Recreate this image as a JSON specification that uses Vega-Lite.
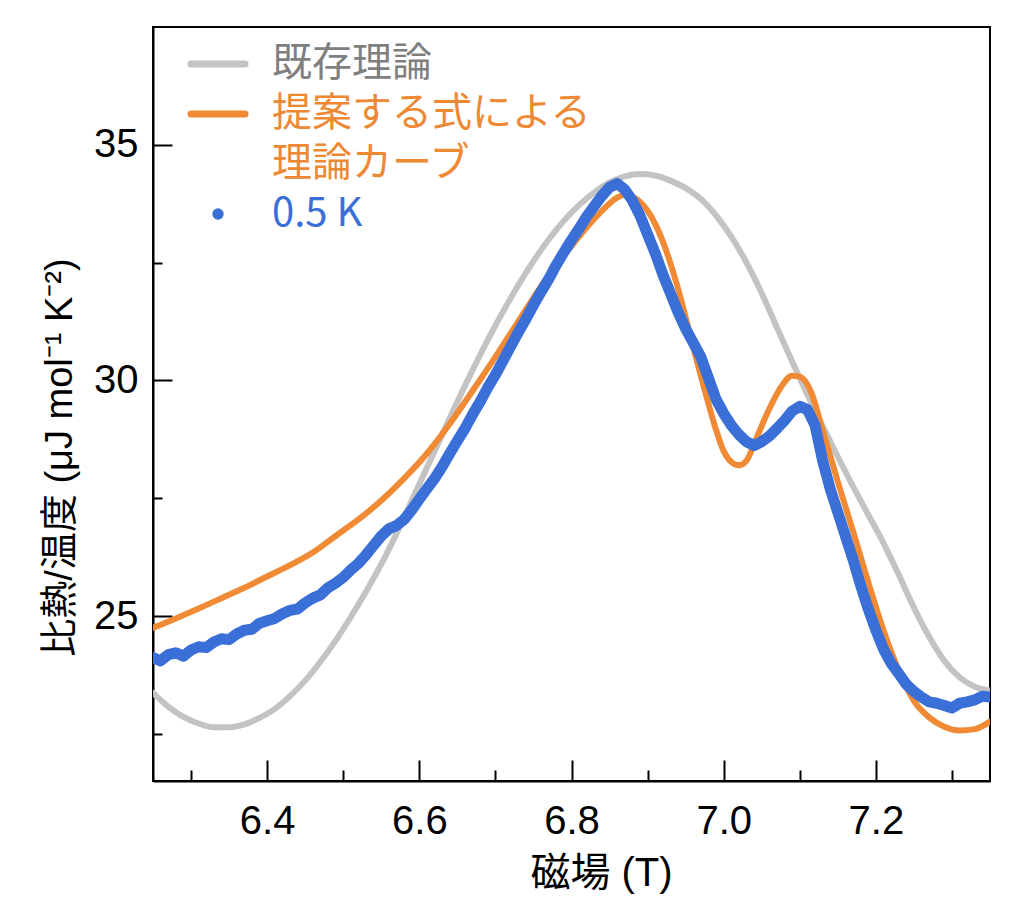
{
  "$schema": "https://vega.github.io/schema/vega-lite/v6.json",
  "width": 837,
  "height": 754,
  "autosize": "none",
  "padding": {"left": 153, "top": 27, "right": 34, "bottom": 130},
  "background": "white",
  "datasets": {
    "gray": [
      {"B": 6.25, "C": 23.37}, {"B": 6.27, "C": 23.08}, {"B": 6.29, "C": 22.86}, {"B": 6.31, "C": 22.72},
      {"B": 6.33, "C": 22.64}, {"B": 6.35, "C": 22.64}, {"B": 6.37, "C": 22.7}, {"B": 6.39, "C": 22.84},
      {"B": 6.41, "C": 23.03}, {"B": 6.43, "C": 23.3}, {"B": 6.45, "C": 23.63}, {"B": 6.47, "C": 24.03},
      {"B": 6.49, "C": 24.48}, {"B": 6.51, "C": 24.98}, {"B": 6.53, "C": 25.52}, {"B": 6.55, "C": 26.1},
      {"B": 6.57, "C": 26.75}, {"B": 6.59, "C": 27.45}, {"B": 6.61, "C": 28.15}, {"B": 6.63, "C": 28.85},
      {"B": 6.65, "C": 29.55}, {"B": 6.67, "C": 30.22}, {"B": 6.69, "C": 30.86}, {"B": 6.71, "C": 31.46},
      {"B": 6.73, "C": 32.02}, {"B": 6.75, "C": 32.53}, {"B": 6.77, "C": 32.99}, {"B": 6.79, "C": 33.39},
      {"B": 6.81, "C": 33.72}, {"B": 6.83, "C": 33.99}, {"B": 6.85, "C": 34.2}, {"B": 6.87, "C": 34.33},
      {"B": 6.89, "C": 34.38}, {"B": 6.91, "C": 34.35}, {"B": 6.93, "C": 34.24}, {"B": 6.95, "C": 34.08},
      {"B": 6.97, "C": 33.85}, {"B": 6.99, "C": 33.5}, {"B": 7.01, "C": 33.05}, {"B": 7.03, "C": 32.5},
      {"B": 7.05, "C": 31.85}, {"B": 7.07, "C": 31.12}, {"B": 7.09, "C": 30.4}, {"B": 7.11, "C": 29.7},
      {"B": 7.13, "C": 29.03}, {"B": 7.15, "C": 28.38}, {"B": 7.17, "C": 27.75}, {"B": 7.19, "C": 27.15},
      {"B": 7.21, "C": 26.55}, {"B": 7.23, "C": 25.88}, {"B": 7.25, "C": 25.18}, {"B": 7.27, "C": 24.56},
      {"B": 7.29, "C": 24.05}, {"B": 7.31, "C": 23.7}, {"B": 7.33, "C": 23.5}, {"B": 7.35, "C": 23.42}
    ],
    "orange": [
      {"B": 6.25, "C": 24.75}, {"B": 6.28, "C": 24.95}, {"B": 6.31, "C": 25.16}, {"B": 6.34, "C": 25.38},
      {"B": 6.37, "C": 25.6}, {"B": 6.40, "C": 25.84}, {"B": 6.43, "C": 26.08}, {"B": 6.46, "C": 26.35},
      {"B": 6.49, "C": 26.7}, {"B": 6.52, "C": 27.05}, {"B": 6.55, "C": 27.45}, {"B": 6.58, "C": 27.92},
      {"B": 6.61, "C": 28.45}, {"B": 6.64, "C": 29.08}, {"B": 6.67, "C": 29.78}, {"B": 6.70, "C": 30.5},
      {"B": 6.72, "C": 31.0}, {"B": 6.74, "C": 31.5}, {"B": 6.76, "C": 32.0}, {"B": 6.78, "C": 32.45},
      {"B": 6.80, "C": 32.85}, {"B": 6.82, "C": 33.25}, {"B": 6.84, "C": 33.6}, {"B": 6.86, "C": 33.88},
      {"B": 6.87, "C": 33.94}, {"B": 6.88, "C": 33.9}, {"B": 6.90, "C": 33.6}, {"B": 6.92, "C": 32.95},
      {"B": 6.94, "C": 31.95}, {"B": 6.96, "C": 30.7}, {"B": 6.975, "C": 29.8}, {"B": 6.99, "C": 28.95},
      {"B": 7.00, "C": 28.5}, {"B": 7.01, "C": 28.27}, {"B": 7.02, "C": 28.2}, {"B": 7.03, "C": 28.3},
      {"B": 7.045, "C": 28.85}, {"B": 7.06, "C": 29.4}, {"B": 7.075, "C": 29.85}, {"B": 7.09, "C": 30.1},
      {"B": 7.10, "C": 30.08}, {"B": 7.115, "C": 29.75}, {"B": 7.13, "C": 28.95}, {"B": 7.15, "C": 27.85},
      {"B": 7.17, "C": 26.8}, {"B": 7.19, "C": 25.72}, {"B": 7.21, "C": 24.7}, {"B": 7.23, "C": 23.85},
      {"B": 7.25, "C": 23.2}, {"B": 7.27, "C": 22.85}, {"B": 7.29, "C": 22.65}, {"B": 7.31, "C": 22.57},
      {"B": 7.33, "C": 22.6}, {"B": 7.35, "C": 22.76}
    ],
    "blue": [
      {"B": 6.25, "C": 24.12}, {"B": 6.26, "C": 24.05}, {"B": 6.27, "C": 24.18}, {"B": 6.28, "C": 24.22},
      {"B": 6.29, "C": 24.15}, {"B": 6.30, "C": 24.28}, {"B": 6.31, "C": 24.35}, {"B": 6.32, "C": 24.33},
      {"B": 6.33, "C": 24.45}, {"B": 6.34, "C": 24.52}, {"B": 6.35, "C": 24.5}, {"B": 6.36, "C": 24.62},
      {"B": 6.37, "C": 24.7}, {"B": 6.38, "C": 24.72}, {"B": 6.39, "C": 24.85}, {"B": 6.40, "C": 24.9},
      {"B": 6.41, "C": 24.95}, {"B": 6.42, "C": 25.05}, {"B": 6.43, "C": 25.12}, {"B": 6.44, "C": 25.15},
      {"B": 6.45, "C": 25.28}, {"B": 6.46, "C": 25.38}, {"B": 6.47, "C": 25.45}, {"B": 6.48, "C": 25.6},
      {"B": 6.49, "C": 25.7}, {"B": 6.50, "C": 25.82}, {"B": 6.51, "C": 25.98}, {"B": 6.52, "C": 26.12},
      {"B": 6.53, "C": 26.3}, {"B": 6.54, "C": 26.5}, {"B": 6.55, "C": 26.7}, {"B": 6.56, "C": 26.85},
      {"B": 6.57, "C": 26.92}, {"B": 6.58, "C": 27.05}, {"B": 6.59, "C": 27.25}, {"B": 6.60, "C": 27.48},
      {"B": 6.61, "C": 27.7}, {"B": 6.62, "C": 27.92}, {"B": 6.63, "C": 28.17}, {"B": 6.64, "C": 28.45},
      {"B": 6.65, "C": 28.72}, {"B": 6.66, "C": 28.98}, {"B": 6.67, "C": 29.28}, {"B": 6.68, "C": 29.55},
      {"B": 6.69, "C": 29.85}, {"B": 6.70, "C": 30.12}, {"B": 6.71, "C": 30.42}, {"B": 6.72, "C": 30.72},
      {"B": 6.73, "C": 31.02}, {"B": 6.74, "C": 31.3}, {"B": 6.75, "C": 31.6}, {"B": 6.76, "C": 31.88},
      {"B": 6.77, "C": 32.15}, {"B": 6.78, "C": 32.45}, {"B": 6.79, "C": 32.72}, {"B": 6.80, "C": 32.98},
      {"B": 6.81, "C": 33.22}, {"B": 6.82, "C": 33.48}, {"B": 6.83, "C": 33.7}, {"B": 6.84, "C": 33.92},
      {"B": 6.85, "C": 34.1}, {"B": 6.86, "C": 34.18}, {"B": 6.87, "C": 34.05}, {"B": 6.88, "C": 33.82},
      {"B": 6.89, "C": 33.5}, {"B": 6.90, "C": 33.1}, {"B": 6.91, "C": 32.7}, {"B": 6.92, "C": 32.25},
      {"B": 6.93, "C": 31.85}, {"B": 6.94, "C": 31.45}, {"B": 6.95, "C": 31.1}, {"B": 6.96, "C": 30.8},
      {"B": 6.97, "C": 30.5}, {"B": 6.98, "C": 30.05}, {"B": 6.99, "C": 29.6}, {"B": 7.00, "C": 29.3},
      {"B": 7.01, "C": 29.05}, {"B": 7.02, "C": 28.85}, {"B": 7.03, "C": 28.7}, {"B": 7.04, "C": 28.62},
      {"B": 7.05, "C": 28.7}, {"B": 7.06, "C": 28.82}, {"B": 7.07, "C": 28.98}, {"B": 7.08, "C": 29.15},
      {"B": 7.09, "C": 29.35}, {"B": 7.10, "C": 29.45}, {"B": 7.11, "C": 29.38}, {"B": 7.12, "C": 29.05},
      {"B": 7.13, "C": 28.3}, {"B": 7.14, "C": 27.7}, {"B": 7.15, "C": 27.2}, {"B": 7.16, "C": 26.7},
      {"B": 7.17, "C": 26.2}, {"B": 7.18, "C": 25.65}, {"B": 7.19, "C": 25.15}, {"B": 7.20, "C": 24.7},
      {"B": 7.21, "C": 24.3}, {"B": 7.22, "C": 24.0}, {"B": 7.23, "C": 23.78}, {"B": 7.24, "C": 23.55},
      {"B": 7.25, "C": 23.4}, {"B": 7.26, "C": 23.28}, {"B": 7.27, "C": 23.18}, {"B": 7.28, "C": 23.15},
      {"B": 7.29, "C": 23.1}, {"B": 7.30, "C": 23.05}, {"B": 7.31, "C": 23.15}, {"B": 7.32, "C": 23.18},
      {"B": 7.33, "C": 23.22}, {"B": 7.34, "C": 23.3}, {"B": 7.35, "C": 23.28}
    ]
  },
  "layer": [
    {
      "data": {"name": "gray"},
      "mark": {"type": "line", "strokeWidth": 6, "strokeCap": "round", "strokeJoin": "round", "interpolate": "monotone", "clip": true},
      "encoding": {
        "x": {"field": "B", "type": "quantitative", "scale": {"domain": [6.25, 7.35], "nice": false, "zero": false},
              "axis": {"orient": "bottom", "values": [6.3, 6.5, 6.7, 6.9, 7.1, 7.3], "labels": false, "tickSize": -11, "title": null, "domain": false}},
        "y": {"field": "C", "type": "quantitative", "scale": {"domain": [21.5, 37.5], "nice": false, "zero": false},
              "axis": {"orient": "left", "values": [22.5, 27.5, 32.5], "labels": false, "tickSize": -9, "title": null, "domain": false}},
        "color": {
          "datum": "既存理論",
          "scale": {"domain": ["既存理論", "提案する式による", "理論カーブ", "0.5 K"], "range": ["#c3c3c3", "#f08a35", "#f08a35", "#3a6fd8"]},
          "legend": {
            "orient": "none", "legendX": 45, "legendY": 17,
            "title": null,
            "values": ["既存理論", "提案する式による", "理論カーブ", "0.5 K"],
            "symbolType": "stroke",
            "symbolSize": 2916,
            "symbolStrokeWidth": 7,
            "labelFont": "Noto Sans CJK JP",
            "labelFontSize": 40,
            "labelOffset": 34,
            "rowPadding": 10,
            "labelLimit": 0,
            "padding": 0,
            "encode": {
              "symbols": {"update": {
                "shape": {"signal": "datum.value === '0.5 K' ? 'circle' : 'stroke'"},
                "size": {"signal": "datum.value === '0.5 K' ? 130 : 2916"},
                "fill": {"signal": "datum.value === '0.5 K' ? '#3a6fd8' : 'transparent'"},
                "strokeWidth": {"signal": "datum.value === '0.5 K' ? 0 : 7"},
                "strokeCap": {"value": "round"},
                "opacity": {"signal": "datum.value === '理論カーブ' ? 0 : 1"}
              }},
              "labels": {"update": {
                "fill": {"signal": "datum.value === '既存理論' ? '#7f7f7f' : (datum.value === '0.5 K' ? '#3a6fd8' : '#ee8833')"}
              }}
            }
          }
        }
      }
    },
    {
      "data": {"name": "orange"},
      "mark": {"type": "line", "strokeWidth": 6, "strokeCap": "round", "strokeJoin": "round", "interpolate": "monotone", "clip": true},
      "encoding": {
        "x": {"field": "B", "type": "quantitative", "scale": {"domain": [6.25, 7.35], "nice": false, "zero": false},
              "axis": {"orient": "bottom", "values": [6.4, 6.6, 6.8, 7.0, 7.2], "format": ".1f", "tickSize": -21, "labelPadding": 41, "title": "磁場 (T)", "titlePadding": 12, "titleFontSize": 40, "titleX": 448}},
        "y": {"field": "C", "type": "quantitative", "scale": {"domain": [21.5, 37.5], "nice": false, "zero": false},
              "axis": {"orient": "left", "values": [25, 30, 35], "tickSize": -19, "labelPadding": 34, "title": "比熱/温度  (μJ mol⁻¹ K⁻²)", "titlePadding": 14, "titleY": 430}},
        "color": {"datum": "提案する式による"}
      }
    },
    {
      "data": {"name": "blue"},
      "mark": {"type": "line", "strokeWidth": 11, "strokeJoin": "round", "strokeCap": "round", "clip": true},
      "encoding": {
        "x": {"field": "B", "type": "quantitative", "axis": null},
        "y": {"field": "C", "type": "quantitative", "axis": null},
        "color": {"datum": "0.5 K"}
      }
    }
  ],
  "resolve": {"axis": {"x": "independent", "y": "independent"}},
  "config": {
    "font": "Liberation Sans, Noto Sans CJK JP, sans-serif",
    "view": {"stroke": "#000000", "strokeWidth": 2},
    "axis": {
      "grid": false,
      "domainColor": "#000000", "domainWidth": 2,
      "tickColor": "#000000", "tickWidth": 2,
      "labelColor": "#000000", "labelFontSize": 40, "labelFont": "Liberation Sans",
      "titleFont": "Liberation Sans, Noto Sans CJK JP", "titleFontSize": 38, "titleFontWeight": "normal", "titleColor": "#000000"
    }
  }
}
